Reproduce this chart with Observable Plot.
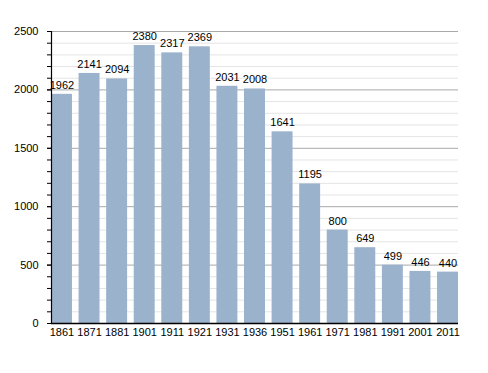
<!DOCTYPE html>
<html>
<head>
<meta charset="utf-8">
<script src="https://cdn.jsdelivr.net/npm/d3@7"></script>
<script src="https://cdn.jsdelivr.net/npm/@observablehq/plot@0.6"></script>
<style>
  html, body { margin: 0; padding: 0; background: #fff; }
</style>
</head>
<body>
<div id="chart"></div>
<script>
const years = ["1861","1871","1881","1901","1911","1921","1931","1936","1951","1961","1971","1981","1991","2001","2011"];
const population = [1962,2141,2094,2380,2317,2369,2031,2008,1641,1195,800,649,499,446,440];
const majorTicks = [0,500,1000,1500,2000,2500];
const minorTicks = d3.range(0, 2501, 100);

const data = years.map((y, i) => ({year: y, value: population[i]}));

const chart = Plot.plot({
  width: 488,
  height: 373,
  marginTop: 31,
  marginBottom: 50,
  marginLeft: 51,
  marginRight: 30,
  style: {fontFamily: "'Liberation Sans', Arial, sans-serif", fontSize: "11px", color: "#000", background: "#fff"},
  x: {domain: years, paddingInner: 0.24, paddingOuter: 0, round: false, label: null},
  y: {domain: [0, 2500], label: null},
  marks: [
    Plot.ruleY(minorTicks.filter(d => d % 500 !== 0), {stroke: "#e4e4e4", strokeWidth: 1}),
    Plot.ruleY(majorTicks.filter(d => d > 0), {stroke: "#a8a8a8", strokeWidth: 1}),
    Plot.barY(data, {x: "year", y: "value", fill: "#9bb2cd"}),
    Plot.text(data, {x: "year", y: "value", text: d => String(d.value), dy: -9, fill: "#000", fontSize: 11}),
    Plot.axisY({ticks: minorTicks, tickSize: 4, tickFormat: () => "", stroke: "#000"}),
    Plot.axisY({ticks: majorTicks, tickSize: 4, tickPadding: 9, tickFormat: d => String(d), fill: "#000", fontSize: 11}),
    Plot.axisX({tickSize: 0, tickPadding: 5, fill: "#000", fontSize: 11}),
    Plot.frame({anchor: "left", stroke: "#000", strokeWidth: 1.2}),
    Plot.ruleY([0], {stroke: "#000", strokeWidth: 1.5})
  ]
});
document.getElementById("chart").appendChild(chart);
</script>
</body>
</html>
